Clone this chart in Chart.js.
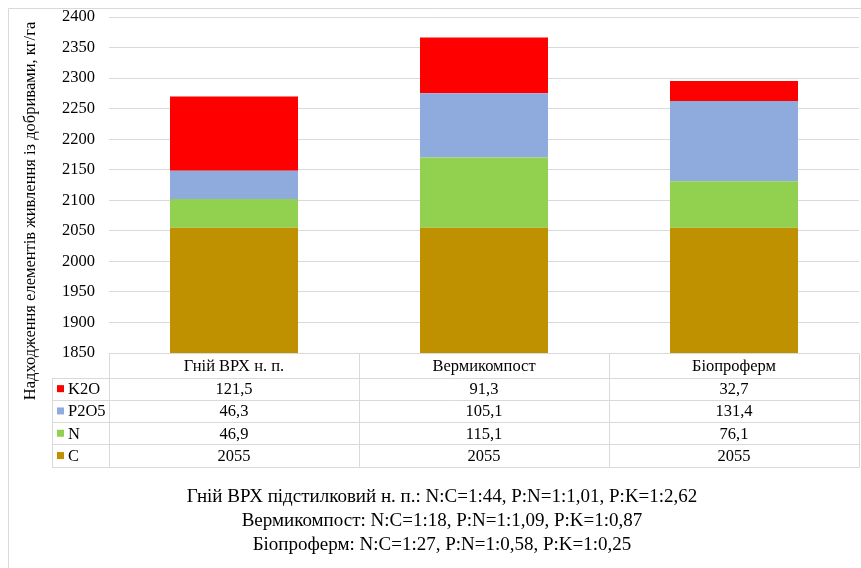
<!DOCTYPE html>
<html lang="uk">
<head>
<meta charset="utf-8">
<title>Надходження елементів живлення із добривами</title>
<script src="https://cdn.jsdelivr.net/npm/chart.js@4"></script>
<style>
  html, body { margin: 0; padding: 0; background: #fff; }
  #wrap { width: 861px; height: 568px; position: relative; }
</style>
</head>
<body>
<div id="wrap"><canvas id="chart"></canvas></div>
<script>
// Fertilizer types (categories)
const categories = ['Гній ВРХ н. п.', 'Вермикомпост', 'Біопроферм'];

// Nutrient inputs, kg/ha
const valuesC    = [2055, 2055, 2055];
const valuesN    = [46.9, 115.1, 76.1];
const valuesP2O5 = [46.3, 105.1, 131.4];
const valuesK2O  = [121.5, 91.3, 32.7];

// Value axis
const yMin = 1850;
const yMax = 2400;
const yStep = 50;

const yTitle = 'Надходження елементів живлення із добривами, кг/га';

// Ratio notes under the chart
const noteLines = [
  'Гній ВРХ підстилковий н. п.: N:C=1:44, P:N=1:1,01, P:K=1:2,62',
  'Вермикомпост: N:C=1:18, P:N=1:1,09, P:K=1:0,87',
  'Біопроферм: N:C=1:27, P:N=1:0,58, P:K=1:0,25'
];

const SERIF = '"Liberation Serif", "DejaVu Serif", serif';
const LINE = '#D9D9D9';

const datasets = [
  { label: 'C',    data: valuesC,    backgroundColor: '#BF9000' },
  { label: 'N',    data: valuesN,    backgroundColor: '#92D050' },
  { label: 'P2O5', data: valuesP2O5, backgroundColor: '#8FAADC' },
  { label: 'K2O',  data: valuesK2O,  backgroundColor: '#FF0000' }
].map(d => Object.assign(d, {
  borderWidth: 0,
  clip: 0,
  categoryPercentage: 1.0,
  barPercentage: 0.512
}));

const fmt = v => String(v).replace('.', ',');

// Background, frame, data table, axis title and notes
const decorPlugin = {
  id: 'decor',
  beforeDraw(chart) {
    const ctx = chart.ctx;
    ctx.save();
    ctx.fillStyle = '#fff';
    ctx.fillRect(0, 0, chart.width, chart.height);
    ctx.strokeStyle = LINE;
    ctx.lineWidth = 1;
    ctx.beginPath();
    ctx.moveTo(8.5, chart.height);
    ctx.lineTo(8.5, 8.5);
    ctx.lineTo(chart.width, 8.5);
    ctx.stroke();
    ctx.restore();
  },
  afterDraw(chart) {
    const ctx = chart.ctx;
    const area = chart.chartArea;
    const xs = chart.scales.x;
    const left = area.left, right = area.right;
    const top = area.bottom;
    const headerH = 24.5;
    const rowH = 22.3;
    const legendLeft = 52;
    const rows = datasets.slice().reverse();
    const colW = (right - left) / categories.length;

    ctx.save();
    ctx.strokeStyle = LINE;
    ctx.lineWidth = 1;
    ctx.beginPath();
    ctx.moveTo(left, Math.round(top) + 0.5);
    ctx.lineTo(right, Math.round(top) + 0.5);
    const hb = top + headerH;
    ctx.moveTo(legendLeft, Math.round(hb) + 0.5);
    ctx.lineTo(right, Math.round(hb) + 0.5);
    rows.forEach((r, i) => {
      const y = Math.round(hb + rowH * (i + 1)) + 0.5;
      ctx.moveTo(legendLeft, y);
      ctx.lineTo(right, y);
    });
    const tb = Math.round(hb + rowH * rows.length) + 0.5;
    ctx.moveTo(legendLeft + 0.5, Math.round(hb) + 0.5);
    ctx.lineTo(legendLeft + 0.5, tb);
    for (let c = 0; c <= categories.length; c++) {
      const x = Math.round(left + colW * c) + 0.5;
      ctx.moveTo(x, Math.round(top) + 0.5);
      ctx.lineTo(x, tb);
    }
    ctx.stroke();

    ctx.fillStyle = '#000';
    ctx.font = '16.5px ' + SERIF;
    ctx.textAlign = 'center';
    ctx.textBaseline = 'middle';
    categories.forEach((c, i) => {
      ctx.fillText(c, xs.getPixelForValue(i), top + headerH / 2 + 1);
    });
    rows.forEach((r, ri) => {
      const cy = hb + rowH * ri + rowH / 2 + 1;
      ctx.fillStyle = r.backgroundColor;
      ctx.fillRect(legendLeft + 5, cy - 4.5, 7, 7);
      ctx.fillStyle = '#000';
      ctx.textAlign = 'left';
      ctx.fillText(r.label, legendLeft + 16, cy);
      ctx.textAlign = 'center';
      r.data.forEach((v, i) => {
        ctx.fillText(fmt(v), xs.getPixelForValue(i), cy);
      });
    });

    // value axis title
    ctx.save();
    ctx.translate(31, 211);
    ctx.rotate(-Math.PI / 2);
    ctx.font = '16.5px ' + SERIF;
    ctx.textAlign = 'center';
    ctx.textBaseline = 'middle';
    ctx.fillText(yTitle, 0, 0);
    ctx.restore();

    // notes
    ctx.font = '19px ' + SERIF;
    ctx.textAlign = 'center';
    ctx.textBaseline = 'middle';
    noteLines.forEach((t, i) => {
      ctx.fillText(t, 442, 497 + i * 24);
    });
    ctx.restore();
  }
};

new Chart(document.getElementById('chart'), {
  type: 'bar',
  data: { labels: categories, datasets },
  options: {
    responsive: true,
    maintainAspectRatio: false,
    animation: false,
    layout: { padding: { top: 17, right: 2, bottom: 215, left: 0 } },
    plugins: {
      legend: { display: false },
      tooltip: { enabled: false }
    },
    scales: {
      x: {
        stacked: true,
        ticks: { display: false },
        grid: { display: false, drawTicks: false },
        border: { display: false },
        afterFit: s => { s.height = 0; s.paddingLeft = 0; s.paddingRight = 0; }
      },
      y: {
        stacked: true,
        min: yMin,
        max: yMax,
        ticks: {
          stepSize: yStep,
          padding: 14,
          color: '#000',
          font: { family: SERIF, size: 16.5 },
          callback: v => String(v)
        },
        grid: { color: LINE, lineWidth: 1, drawTicks: false },
        border: { display: false },
        afterFit: s => { s.width = 109; s.paddingTop = 0; s.paddingBottom = 0; }
      }
    }
  },
  plugins: [decorPlugin]
});
</script>
</body>
</html>
